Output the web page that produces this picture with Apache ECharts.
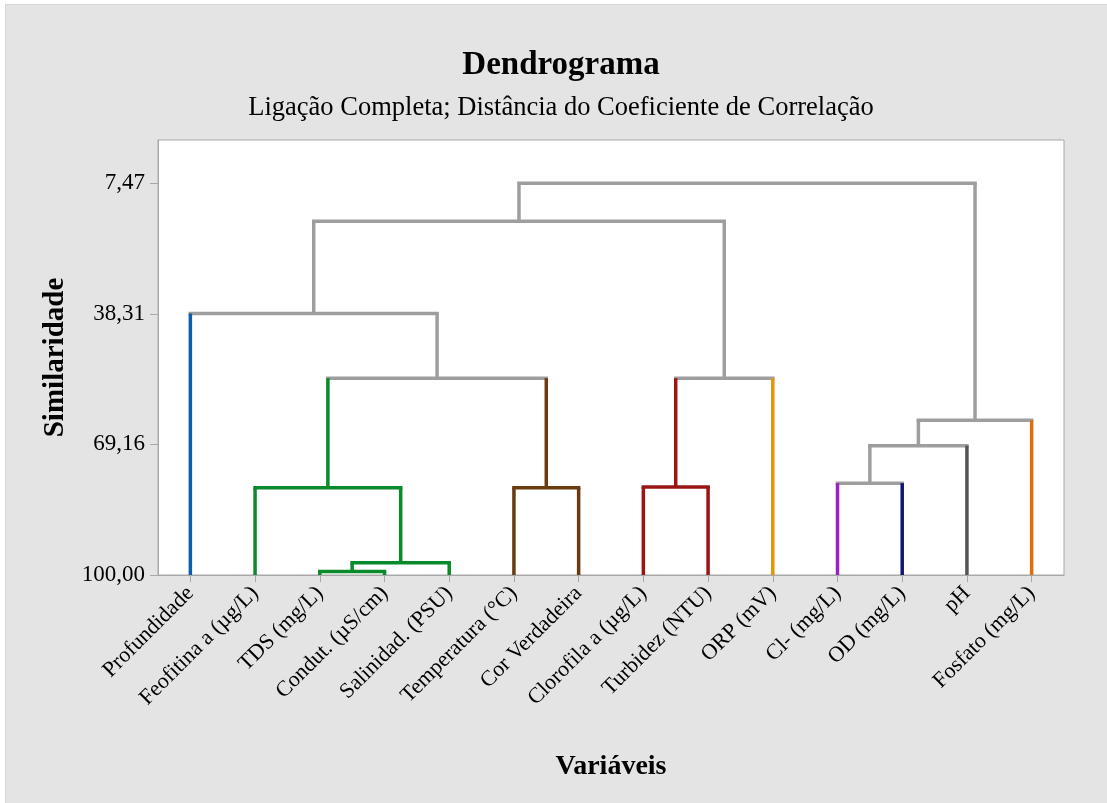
<!DOCTYPE html>
<html>
<head>
<meta charset="utf-8">
<script src="https://cdn.jsdelivr.net/npm/echarts@6/dist/echarts.min.js"></script>
<style>
  html, body { margin: 0; padding: 0; background: #ffffff; }
  #wrap { position: absolute; left: 5px; top: 4px; width: 1102px; height: 799px; background: #e4e4e4; border-left: 1px solid #d6d6d6; border-top: 1px solid #d6d6d6; }
  #chart { width: 1101px; height: 798px; }
</style>
</head>
<body>
<div id="wrap"><div id="chart"></div></div>
<script>
// ---- Data ----
const leaves = ['Profundidade', 'Feofitina a (µg/L)', 'TDS (mg/L)', 'Condut. (µS/cm)', 'Salinidad. (PSU)',
  'Temperatura (°C)', 'Cor Verdadeira', 'Clorofila a (µg/L)', 'Turbidez (NTU)', 'ORP (mV)',
  'Cl- (mg/L)', 'OD (mg/L)', 'pH', 'Fosfato (mg/L)'];
const leafColors = ['#0d5db0', '#0b8a2b', '#0b8a2b', '#0b8a2b', '#0b8a2b',
  '#6b3a0e', '#6b3a0e', '#9b1515', '#9b1515', '#e3950a',
  '#9c20c4', '#12127a', '#555555', '#e06d0c'];
// merges: [left node, right node, similarity]; leaves are 0..13, merged nodes 14..26
const merges = [
  [2, 3, 99.2],
  [14, 4, 97.1],
  [1, 15, 79.4],
  [5, 6, 79.4],
  [7, 8, 79.2],
  [10, 11, 78.3],
  [19, 12, 69.45],
  [20, 13, 63.45],
  [16, 17, 53.5],
  [18, 9, 53.5],
  [0, 22, 38.25],
  [24, 23, 16.44],
  [25, 21, 7.47]
];
const yTicks = [7.47, 38.31, 69.16, 100.00];
const titleText = 'Dendrograma';
const subtitleText = 'Ligação Completa; Distância do Coeficiente de Correlação';
const xName = 'Variáveis';
const yName = 'Similaridade';

// ---- Build node geometry ----
const GRAY = '#9e9e9e';
const nodeX = leaves.map((_, i) => i);
const nodeH = leaves.map(() => 100);
const nodeC = leafColors.slice();
const segData = [];
const segColors = [];
merges.forEach(m => {
  const [a, b, s] = m;
  const x = (nodeX[a] + nodeX[b]) / 2;
  const c = nodeC[a] === nodeC[b] ? nodeC[a] : GRAY;
  segData.push([nodeX[a], nodeH[a], nodeX[b], nodeH[b], s]);
  segColors.push([nodeC[a], c, nodeC[b]]);
  nodeX.push(x); nodeH.push(s); nodeC.push(c);
});

const FONT = 'Liberation Serif';
const chart = echarts.init(document.getElementById('chart'));
const option = {
  backgroundColor: '#e4e4e4',
  animation: false,
  textStyle: { fontFamily: FONT },
  graphic: [
    { type: 'text', x: 555, y: 60, style: { text: titleText, font: 'bold 33px "Liberation Serif"', fill: '#000', textAlign: 'center', textVerticalAlign: 'middle' } },
    { type: 'text', x: 555, y: 103, style: { text: subtitleText, font: '26.5px "Liberation Serif"', fill: '#000', textAlign: 'center', textVerticalAlign: 'middle' } }
  ],
  grid: {
    left: 152, top: 135, right: 43, bottom: 228,
    show: true, backgroundColor: '#ffffff', borderColor: '#a8a8a8', borderWidth: 1
  },
  xAxis: [
    {
      type: 'category', data: leaves, boundaryGap: true, position: 'bottom',
      name: xName, nameLocation: 'middle', nameGap: 178,
      nameTextStyle: { fontFamily: FONT, fontSize: 28, fontWeight: 'bold', color: '#000' },
      axisLine: { show: true, onZero: false, lineStyle: { color: '#a8a8a8', width: 1 } },
      axisTick: { show: true, alignWithLabel: true, length: 7, lineStyle: { color: '#a8a8a8', width: 1 } },
      axisLabel: { rotate: 45, interval: 0, margin: 15, fontFamily: FONT, fontSize: 22, color: '#000' },
      splitLine: { show: false }
    },
    { type: 'value', min: -0.5, max: 13.5, show: false, axisLine: { onZero: false } }
  ],
  yAxis: {
    type: 'value', inverse: true, min: -2.76, max: 100,
    name: yName, nameLocation: 'middle', nameGap: 88, nameRotate: 90,
    nameTextStyle: { fontFamily: FONT, fontSize: 29, fontWeight: 'bold', color: '#000' },
    axisLine: { show: true, onZero: false, lineStyle: { color: '#a8a8a8', width: 1 } },
    axisTick: { show: true, length: 8, customValues: yTicks, lineStyle: { color: '#a8a8a8', width: 1 } },
    axisLabel: {
      customValues: yTicks, margin: 13, fontFamily: FONT, fontSize: 23, color: '#000',
      formatter: v => Number(v).toFixed(2).replace('.', ',')
    },
    splitLine: { show: false }
  },
  series: [{
    type: 'custom',
    xAxisIndex: 1,
    yAxisIndex: 0,
    data: segData,
    renderItem: function (params, api) {
      const i = params.dataIndex;
      const cols = segColors[i];
      const xl = api.value(0), yl = api.value(1), xr = api.value(2), yr = api.value(3), h = api.value(4);
      const pL0 = api.coord([xl, yl]);
      const pL1 = api.coord([xl, h]);
      const pR1 = api.coord([xr, h]);
      const pR0 = api.coord([xr, yr]);
      const mk = (p, q, c) => ({
        type: 'line',
        shape: { x1: p[0], y1: p[1], x2: q[0], y2: q[1] },
        style: { stroke: c, lineWidth: 3.5, lineCap: 'butt' }
      });
      const lw = 1.75;
      return {
        type: 'group',
        children: [
          mk([pL1[0] - lw, pL1[1]], [pR1[0] + lw, pR1[1]], cols[1]),
          mk(pL0, pL1, cols[0]),
          mk(pR0, pR1, cols[2])
        ]
      };
    }
  }]
};
chart.setOption(option);
</script>
</body>
</html>
